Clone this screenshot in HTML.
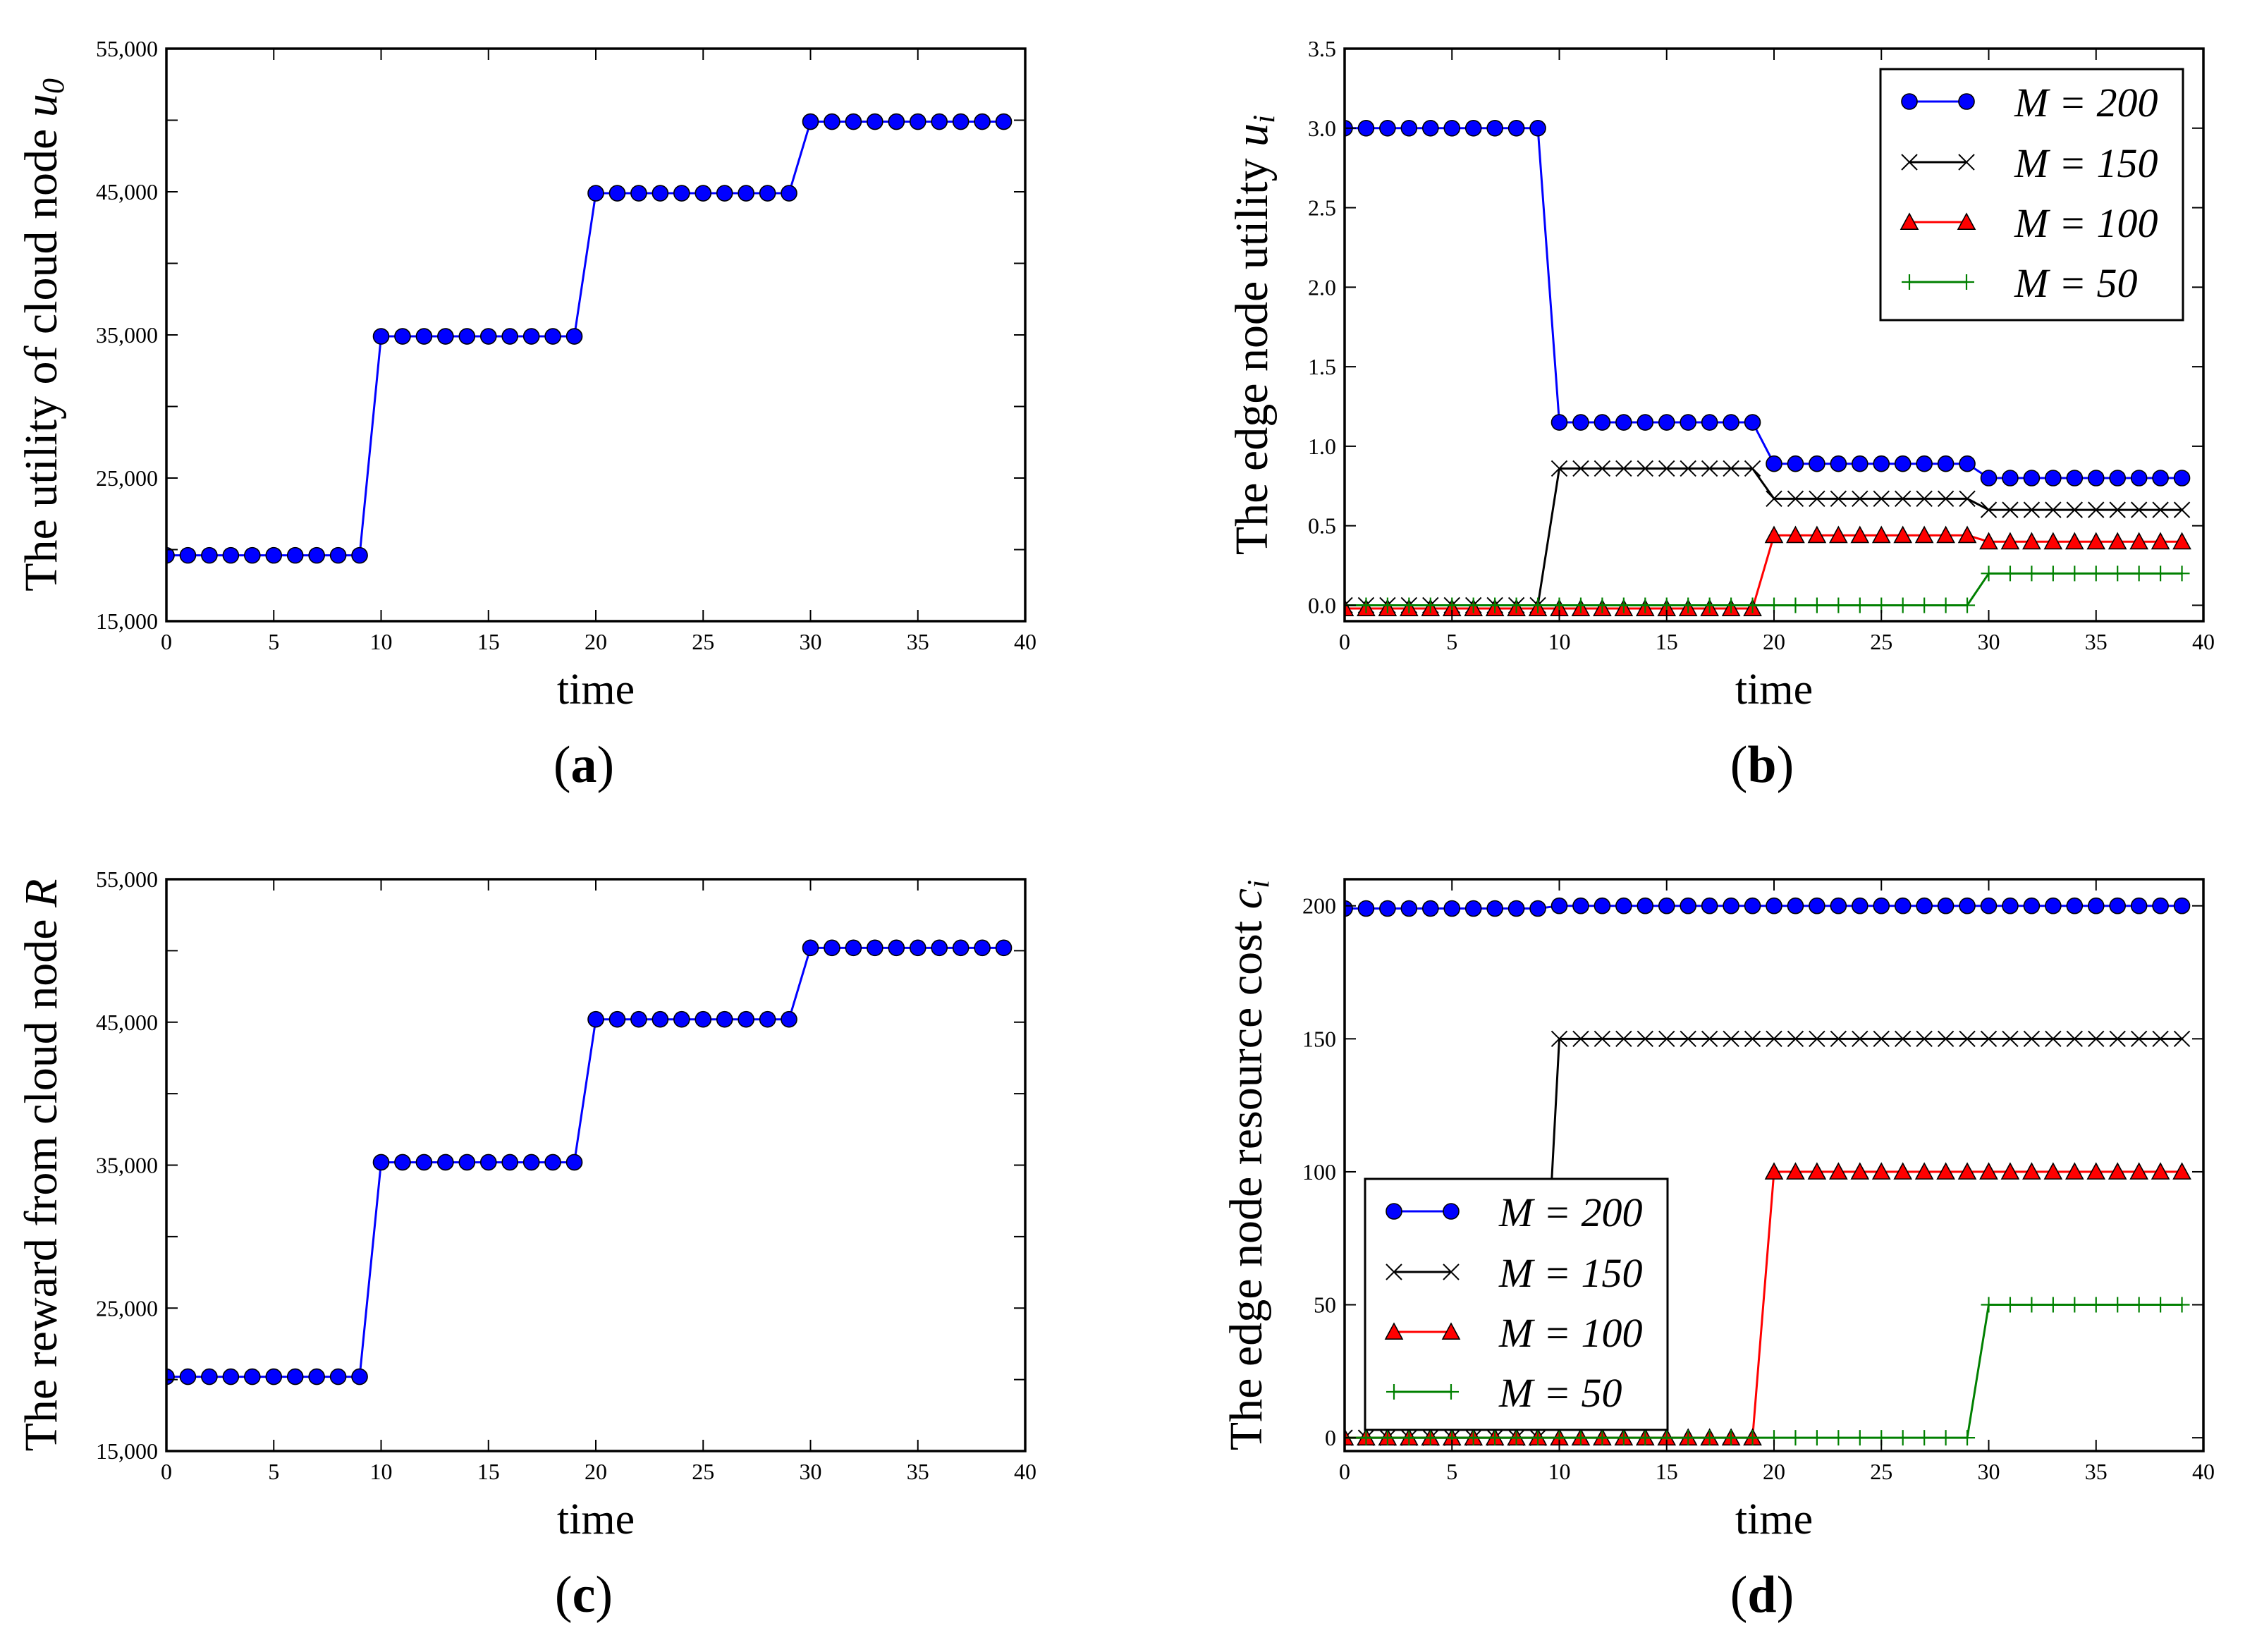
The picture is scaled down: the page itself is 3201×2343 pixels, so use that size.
<!DOCTYPE html>
<html><head><meta charset="utf-8">
<style>
html,body{margin:0;padding:0;background:#fff;}
svg{display:block;}
text{font-family:"Liberation Serif","DejaVu Serif",serif;fill:#000;}
</style></head>
<body>
<svg id="fig" width="3201" height="2343" viewBox="0 0 3201 2343" xmlns="http://www.w3.org/2000/svg"></svg>
<script>
// ---- data ----
const timeSteps = Array.from({length:40},(_, i)=>i);
const cloudUtilLevels = [19600, 34900, 44900, 49900];
const rewardLevels = [20200, 35200, 45200, 50200];
const edgeUtilM200 = [3.0, 1.15, 0.89, 0.80];
const edgeUtilM150 = [0.0, 0.86, 0.67, 0.60];
const edgeUtilM100 = [-0.02, -0.02, 0.44, 0.40];
const edgeUtilM50 = [0.0, 0.0, 0.0, 0.20];
const costM200 = [199, 200, 200, 200];
const costM150 = [0, 150, 150, 150];
const costM100 = [0, 0, 100, 100];
const costM50 = [0, 0, 0, 50];
const xTicks = [0,5,10,15,20,25,30,35,40];
const bigTicks = [15000,20000,25000,30000,35000,40000,45000,50000,55000];
const bigTickLabels = ["15,000","","25,000","","35,000","","45,000","","55,000"];
const bTicks = [0,0.5,1,1.5,2,2.5,3,3.5];
const bTickLabels = ["0.0","0.5","1.0","1.5","2.0","2.5","3.0","3.5"];
const dTicks = [0,50,100,150,200];
const dTickLabels = ["0","50","100","150","200"];
const seriesNames = ["M = 200","M = 150","M = 100","M = 50"];

const NS="http://www.w3.org/2000/svg";
const svg=document.getElementById('fig');
function el(tag, attrs, parent){
  const e=document.createElementNS(NS,tag);
  for(const k in attrs) e.setAttribute(k,attrs[k]);
  (parent||svg).appendChild(e); return e;
}
function expand(levels){ return timeSteps.map(t=>levels[Math.floor(t/10)]); }

const styles=[
  {color:'#0000ff',marker:'circle'},
  {color:'#000000',marker:'x'},
  {color:'#ff0000',marker:'tri'},
  {color:'#008000',marker:'plus'}
];

function marker(g,type,x,y,color){
  let m;
  if(type==='circle'){ m=el('circle',{cx:x,cy:y,r:11,fill:'#0000ff',stroke:'#000','stroke-width':1.6},g); }
  else if(type==='x'){ const s=11; m=el('path',{d:`M${x-s},${y-s}L${x+s},${y+s}M${x-s},${y+s}L${x+s},${y-s}`,stroke:'#000','stroke-width':2,fill:'none'},g); }
  else if(type==='tri'){ const s=12; m=el('path',{d:`M${x},${y-s}L${x+s},${y+s*0.85}L${x-s},${y+s*0.85}Z`,fill:'#ff0000',stroke:'#000','stroke-width':1.6},g); }
  else { const s=11; m=el('path',{d:`M${x-s},${y}L${x+s},${y}M${x},${y-s}L${x},${y+s}`,stroke:color,'stroke-width':2.2,fill:'none'},g); }
  
  
  return m;
}

function panel(cfg){
  const g=el('g',{});
  
  
  const L=cfg.x0,R=cfg.x1,T=cfg.y0,B=cfg.y1;
  const sx=v=>L+(v-0)/(40-0)*(R-L);
  const sy=v=>B-(v-cfg.ymin)/(cfg.ymax-cfg.ymin)*(B-T);
  const cid='clip-'+cfg.name;
  const cp=el('clipPath',{id:cid},g); el('rect',{x:L,y:T,width:R-L,height:B-T},cp);
  const plot=el('g',{'clip-path':`url(#${cid})`},g);
  
  
  cfg.series.forEach((s,i)=>{
    const st=styles[i];
    const pts=timeSteps.map((t,j)=>[sx(t),sy(s[j])]);
    const line=el('polyline',{points:pts.map(p=>p.join(',')).join(' '),fill:'none',stroke:st.color,'stroke-width':3},plot);
    
    
    pts.forEach(p=>marker(plot,st.marker,p[0],p[1],st.color));
  });
  xTicks.forEach(v=>{
    const x=sx(v);
    el('line',{x1:x,y1:B,x2:x,y2:B-16,stroke:'#000','stroke-width':2},g);
    el('line',{x1:x,y1:T,x2:x,y2:T+16,stroke:'#000','stroke-width':2},g);
    const t=el('text',{x:x,y:B+40,'font-size':32,'text-anchor':'middle'},g);
    t.textContent=v;
    
    
  });
  cfg.yTicks.forEach((v,i)=>{
    const y=sy(v);
    el('line',{x1:L,y1:y,x2:L+16,y2:y,stroke:'#000','stroke-width':2},g);
    el('line',{x1:R,y1:y,x2:R-16,y2:y,stroke:'#000','stroke-width':2},g);
    if(cfg.yLabels[i]){
      const t=el('text',{x:L-12,y:y+11,'font-size':32,'text-anchor':'end'},g);
      t.textContent=cfg.yLabels[i];
      
      
    }
  });
  const fr=el('rect',{x:L,y:T,width:R-L,height:B-T,fill:'none',stroke:'#000','stroke-width':3.5},g);
  
  
  const xt=el('text',{x:(L+R)/2,y:B+117,'font-size':62,'text-anchor':'middle'},g);
  xt.textContent='time';
  
  
  const cy=(T+B)/2;
  const yt=el('text',{x:0,y:0,'font-size':66,'text-anchor':'middle',transform:`translate(${cfg.ylx},${cy}) rotate(-90)`},g);
  
  
  const a=el('tspan',{},yt); a.textContent=cfg.ytitle+' ';
  const b=el('tspan',{'font-style':'italic'},yt); b.textContent=cfg.ymath;
  if(cfg.ysub){ const c=el('tspan',{'font-style':'italic','font-size':44,dy:10},yt); c.textContent=cfg.ysub; }
  const cap=el('text',{x:(L+R)/2-17,y:B+228,'font-size':74,'text-anchor':'middle'},g);
  
  
  const p1=el('tspan',{},cap); p1.textContent='(';
  const p2=el('tspan',{'font-weight':'bold'},cap); p2.textContent=cfg.cap;
  const p3=el('tspan',{},cap); p3.textContent=')';
  if(cfg.legend){
    const lg=el('g',{},g);
    
    
    const lx=cfg.legend[0], ly=cfg.legend[1];
    el('rect',{x:lx,y:ly,width:429,height:356,fill:'#fff',stroke:'#000','stroke-width':3},lg);
    [46,132,217,302].forEach((dy,i)=>{
      const st=styles[i]; const y=ly+dy;
      const e=el('g',{},lg);
      
      
      el('line',{x1:lx+41,y1:y,x2:lx+122,y2:y,stroke:st.color,'stroke-width':3},e);
      marker(e,st.marker,lx+41,y,st.color); marker(e,st.marker,lx+122,y,st.color);
      const t=el('text',{x:lx+190,y:y+21,'font-size':58,'font-style':'italic'},e);
      t.textContent=seriesNames[i];
    });
  }
}

panel({name:'panel-a',x0:236,x1:1454,y0:69,y1:881,ymin:15000,ymax:55000,yTicks:bigTicks,yLabels:bigTickLabels,
  series:[expand(cloudUtilLevels)],ylx:80,ytitle:'The utility of cloud node',ymath:'u',ysub:'0',cap:'a'});
panel({name:'panel-b',x0:1907,x1:3125,y0:69,y1:881,ymin:-0.1,ymax:3.5,yTicks:bTicks,yLabels:bTickLabels,
  series:[expand(edgeUtilM200),expand(edgeUtilM150),expand(edgeUtilM100),expand(edgeUtilM50)],
  ylx:1797,ytitle:'The edge node utility',ymath:'u',ysub:'i',cap:'b',legend:[2667,98]});
panel({name:'panel-c',x0:236,x1:1454,y0:1247,y1:2058,ymin:15000,ymax:55000,yTicks:bigTicks,yLabels:bigTickLabels,
  series:[expand(rewardLevels)],ylx:80,ytitle:'The reward from cloud node',ymath:'R',ysub:'',cap:'c'});
panel({name:'panel-d',x0:1907,x1:3125,y0:1247,y1:2058,ymin:-5,ymax:210,yTicks:dTicks,yLabels:dTickLabels,
  series:[expand(costM200),expand(costM150),expand(costM100),expand(costM50)],
  ylx:1789,ytitle:'The edge node resource cost',ymath:'c',ysub:'i',cap:'d',legend:[1936,1672]});
</script>
</body></html>
